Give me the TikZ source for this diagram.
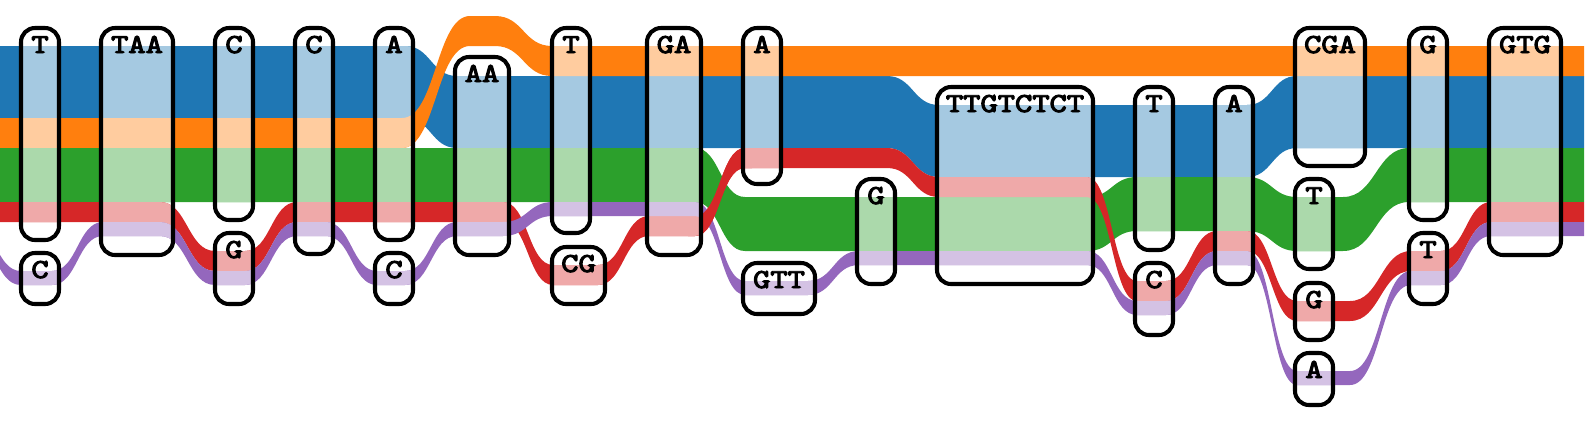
\documentclass[tikz,border=0pt]{standalone}
\usepackage{xcolor}
\usepackage{graphicx}
\usepackage{fontspec}
\newfontfamily\seqfont{lmmono10-regular}[Extension=.otf, FakeBold=3.5]
\usepackage{tikz}
\usetikzlibrary{positioning,calc,fit,backgrounds}

\definecolor{trkblue}{HTML}{1F77B4}
\definecolor{trkorange}{HTML}{FF7F0E}
\definecolor{trkgreen}{HTML}{2CA02C}
\definecolor{trkred}{HTML}{D62728}
\definecolor{trkpurple}{HTML}{9467BD}

\tikzset{
	seqnode/.style={draw=black, line width=2.9pt, rounded corners=3.5mm, inner sep=0pt, outer sep=0pt},
	seqlabel/.style={anchor=base, inner sep=0pt, font=\seqfont\fontsize{19.5}{19.5}\selectfont},
}

% filled tube: style, half width, list of x/y centre points
\newcommand\tubeband[3]{%
	\foreach \tx/\ty [count=\ti] in #3 {%
		\ifnum\ti=1
			\xdef\tubetop{(\tx,\ty-#2)}%
			\xdef\tubebot{(\tx,\ty+#2)}%
		\else
			\pgfmathsetmacro\tmx{(\tpx+\tx)/2}%
			\xdef\tubetop{\tubetop .. controls (\tmx,\tpy-#2) and (\tmx,\ty-#2) .. (\tx,\ty-#2)}%
			\xdef\tubebot{(\tx,\ty+#2) .. controls (\tmx,\ty+#2) and (\tmx,\tpy+#2) .. \tubebot}%
		\fi
		\xdef\tpx{\tx}\xdef\tpy{\ty}%
	}%
	\fill[#1] \tubetop -- \tubebot -- cycle;
}

\def\bluepath{0/82, 405/82, 457/112, 887/112, 939/141, 1247/141, 1297/112, 1584/112}
\def\orangepath{0/133, 402/133, 470/31, 495/31, 552/61, 1584/61}
\def\greenpath{0/175, 695/175, 745/224, 1087/224, 1137/204, 1247/204, 1297/224, 1343/224, 1409/175, 1584/175}
\def\redpath{0/212, 160/212, 215/261, 245/261, 297/212, 503/212, 553/275, 598/275, 649/226, 695/226, 745/158, 887/158, 939/187, 1087/187, 1137/291, 1166/291, 1217/241, 1247/241, 1297/311, 1350/311, 1411/261, 1441/261, 1491/212, 1584/212}
\def\redcross{688/226, 695/226, 745/158, 752/158}
\def\purplepath{-30/229, 21/278, 52/278, 103/229, 160/229, 215/278, 245/278, 297/229, 326/229, 377/278, 405/278, 457/229, 503/229, 553/209, 695/209, 745/288, 808/288, 859/258, 1087/258, 1137/308, 1166/308, 1217/258, 1247/258, 1297/378, 1350/378, 1411/278, 1441/278, 1491/229, 1584/229}

\def\seqnames{c1top,c1bot,c2,c3top,c3bot,c4,c5top,c5bot,c6,c7top,c7bot,c8,c9top,c9bot,c10,c11,c12top,c12bot,c13,c14a,c14b,c14c,c14d,c15top,c15bot,c16}

\begin{document}
\begin{tikzpicture}[x=0.25mm,y=-0.25mm]
	\useasboundingbox (0,0) rectangle (1594,422);
	
	% sequence nodes
	\foreach \nm/\xa/\ya/\xb/\yb/\sq in {
		c1top/21/28/59/240/T, c1bot/21/253/59/304/C,
		c2/101/28/173/255/TAA,
		c3top/215/28/253/220/C, c3bot/215/233/253/304/G,
		c4/295/28/333/254/C,
		c5top/375/28/413/240/A, c5bot/375/253/413/304/C,
		c6/455/57/509/255/AA,
		c7top/552/28/590/233/T, c7bot/552/247/605/304/CG,
		c8/647/28/701/255/GA,
		c9top/743/28/781/184/A, c9bot/743/263/815/314/GTT,
		c10/857/179/895/284/G,
		c11/937/87/1093/284/TTGTCTCT,
		c12top/1135/87/1173/250/T, c12bot/1135/263/1173/335/C,
		c13/1215/87/1253/284/A,
		c14a/1295/28/1365/166/CGA, c14b/1295/179/1333/269/T,
		c14c/1295/283/1333/340/G, c14d/1295/353/1333/405/A,
		c15top/1409/28/1447/220/G, c15bot/1409/233/1447/304/T,
		c16/1489/28/1561/255/GTG} {
		\node[seqnode, fit={(\xa,\ya) (\xb,\yb)}] (\nm) {};
		\node[seqlabel] (\nm-l) at ([yshift=-6.25mm]\nm.north) {\scalebox{1.2}[1]{\sq}};
	}
	
	\begin{pgfonlayer}{background}
		% tracks
		\tubeband{trkblue}{36}{\bluepath}
		\tubeband{trkorange}{15}{\orangepath}
		\tubeband{trkgreen}{27}{\greenpath}
		\tubeband{trkred}{10}{\redpath}
		\tubeband{trkpurple}{7}{\purplepath}
		\tubeband{trkred}{10}{\redcross}
		
		% lighter inside the nodes
		\begin{scope}
			\clip[rounded corners=3.5mm] \foreach \nm in \seqnames {(\nm.south west) rectangle (\nm.north east)};
			\tubeband{trkblue!40!white}{36}{\bluepath}
			\tubeband{trkorange!40!white}{15}{\orangepath}
			\tubeband{trkgreen!40!white}{27}{\greenpath}
			\tubeband{trkred!40!white}{10}{\redpath}
			\tubeband{trkpurple!40!white}{7}{\purplepath}
		\end{scope}
	\end{pgfonlayer}
\end{tikzpicture}
\end{document}
